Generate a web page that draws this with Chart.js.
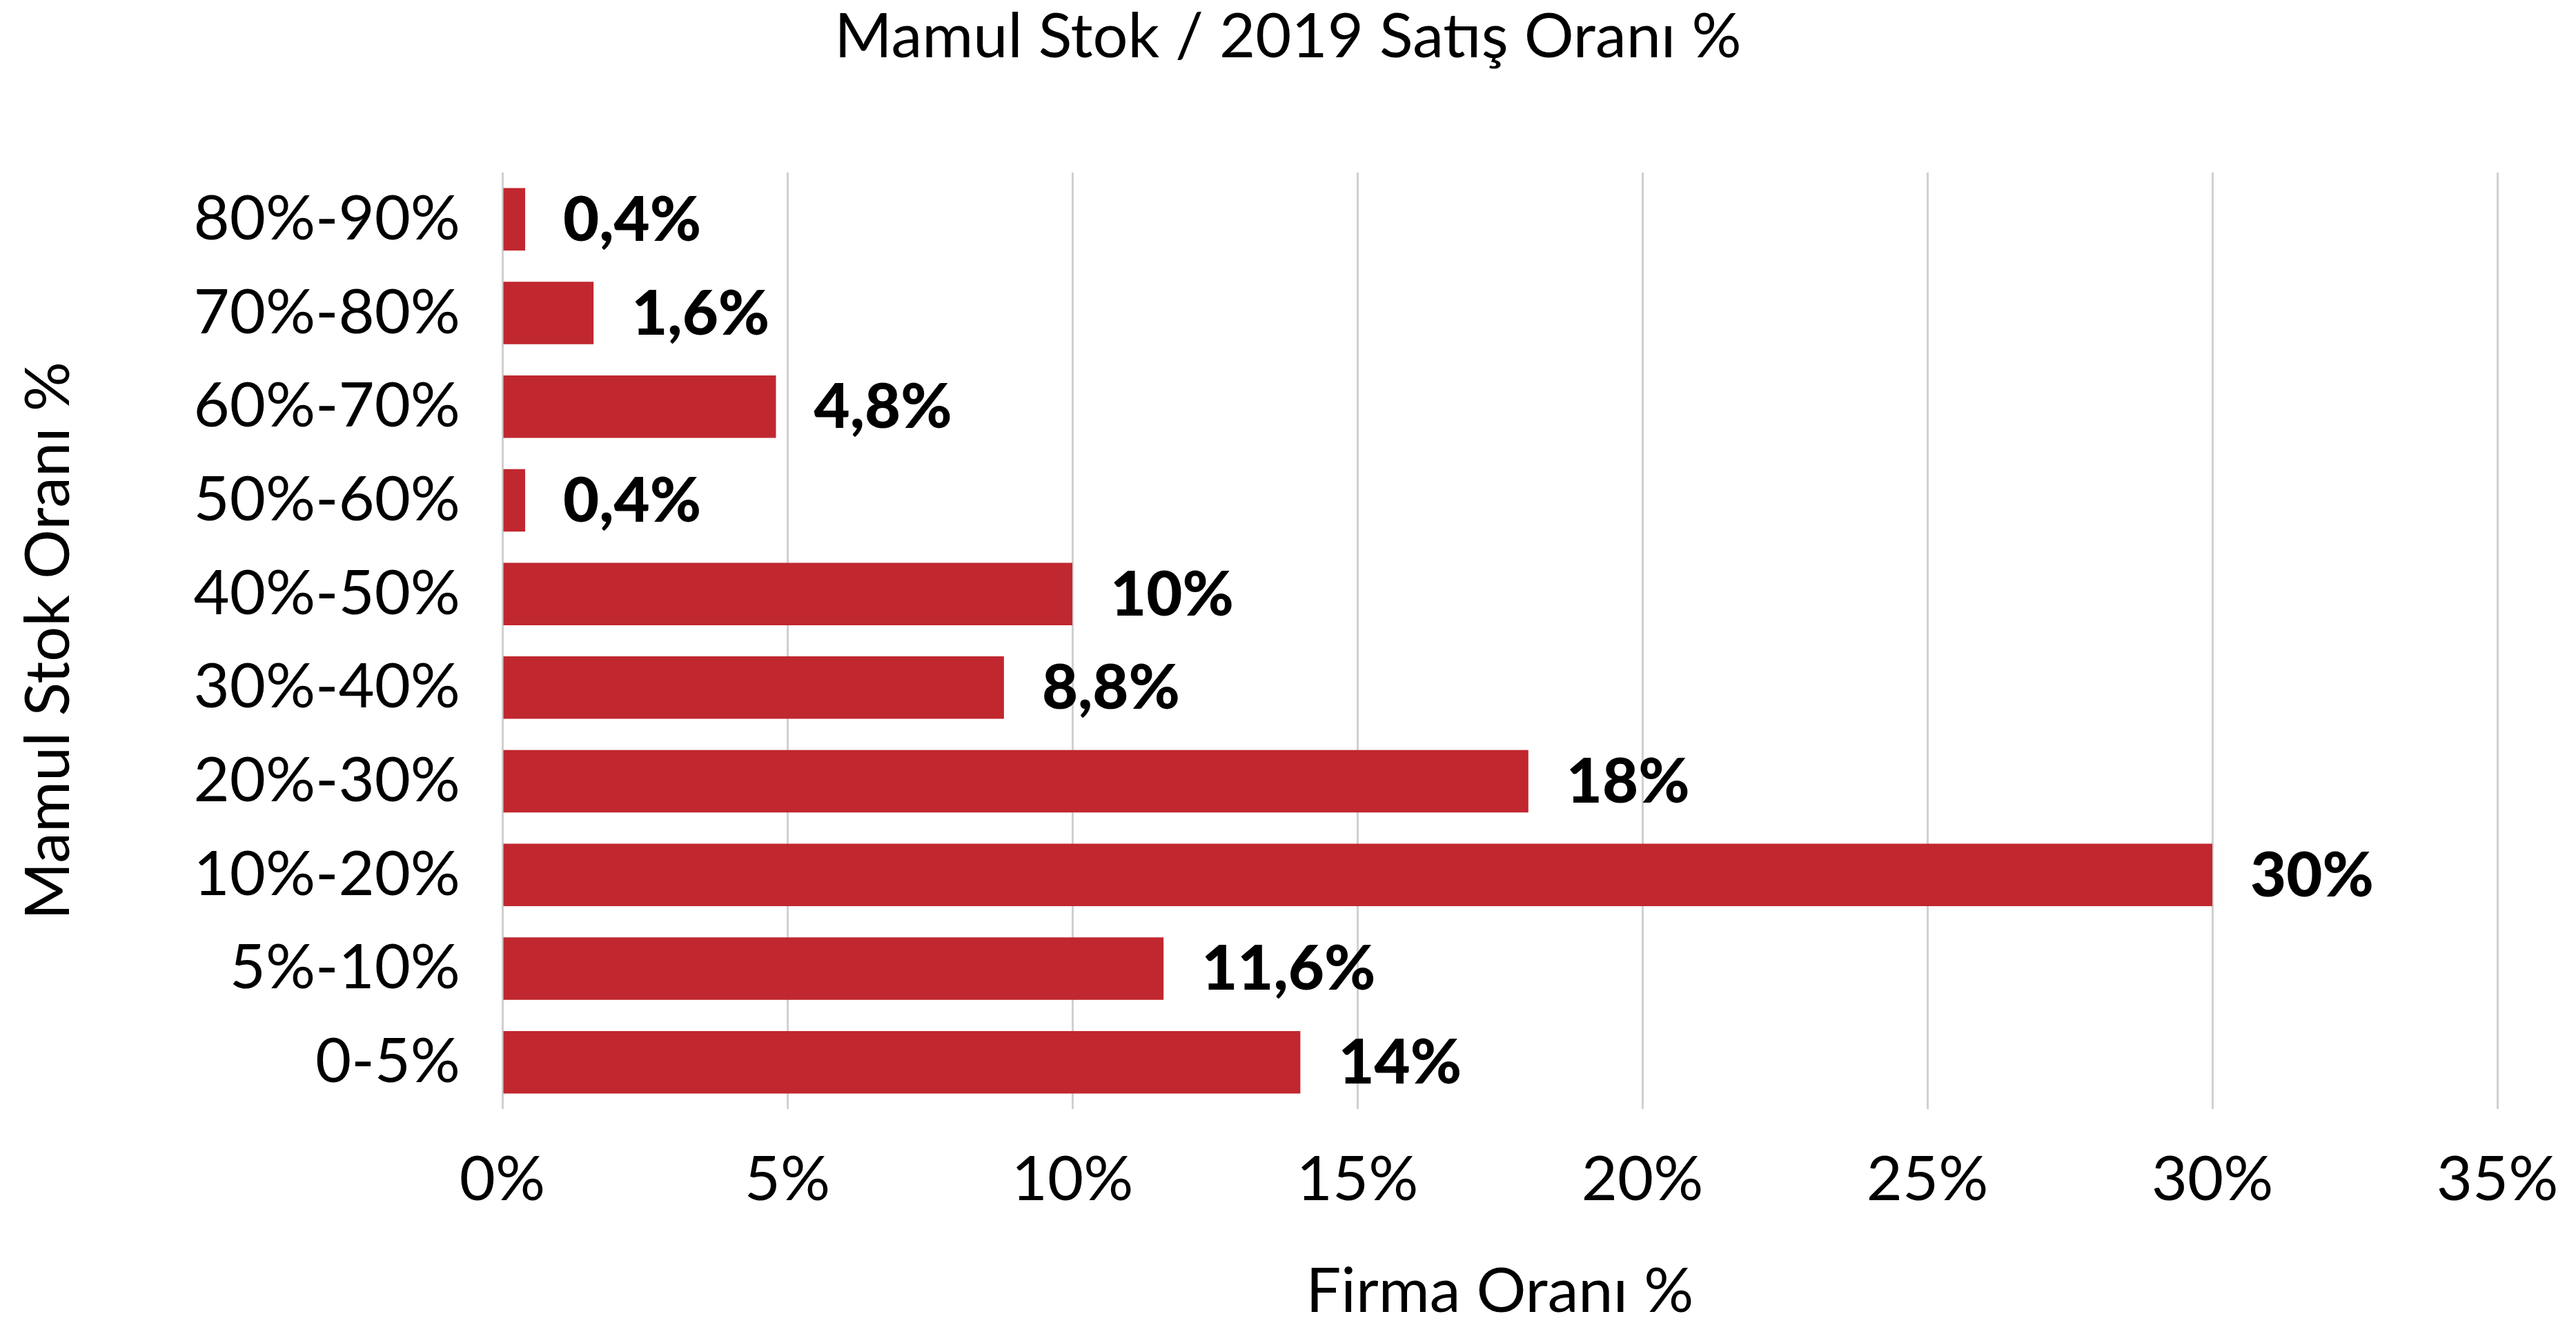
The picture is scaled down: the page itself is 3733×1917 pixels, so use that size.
<!DOCTYPE html>
<html>
<head>
<meta charset="utf-8">
<script src="https://cdn.jsdelivr.net/npm/chart.js@4.4.0/dist/chart.umd.min.js"></script>
<style>
  html, body { margin: 0; padding: 0; background: #fff; }
  canvas { display: block; }
</style>
</head>
<body>
<canvas id="myChart" width="3733" height="1917"></canvas>
<script>
// categories, top to bottom
var categories = ["80%-90%", "70%-80%", "60%-70%", "50%-60%", "40%-50%",
                  "30%-40%", "20%-30%", "10%-20%", "5%-10%", "0-5%"];
// share of firms (%)
var firmShare = [0.4, 1.6, 4.8, 0.4, 10, 8.8, 18, 30, 11.6, 14];
var xTicks = [0, 5, 10, 15, 20, 25, 30, 35];

var FONT = "Lato, 'Open Sans', sans-serif";

// draws the value labels at the end of each bar
var valueLabels = {
  id: "valueLabels",
  afterDatasetsDraw: function (chart) {
    var ctx = chart.ctx;
    var meta = chart.getDatasetMeta(0);
    ctx.save();
    ctx.font = "900 90px " + FONT;
    ctx.fillStyle = "#000";
    ctx.textAlign = "left";
    ctx.textBaseline = "middle";
    meta.data.forEach(function (bar, i) {
      var txt = String(firmShare[i]).replace(".", ",") + "%";
      ctx.fillText(txt, bar.x + 55, bar.y + 2);
    });
    ctx.restore();
  }
};

var ctx = document.getElementById("myChart").getContext("2d");
var chart = new Chart(ctx, {
  type: "bar",
  data: {
    labels: categories,
    datasets: [
      {
        label: "Firma Oranı %",
        backgroundColor: "#C1272F",
        borderWidth: 0,
        data: firmShare,
        barPercentage: 0.667,
        categoryPercentage: 1
      }
    ]
  },
  options: {
    indexAxis: "y",
    responsive: false,
    animation: false,
    devicePixelRatio: 1,
    layout: { padding: { left: 0, right: 0, top: 0, bottom: 0 } },
    plugins: {
      legend: { display: false },
      tooltip: { enabled: false },
      title: {
        display: true,
        text: "Mamul Stok / 2019 Satış Oranı %",
        color: "#000",
        font: { family: FONT, size: 90, weight: "normal", lineHeight: 1.2 },
        padding: { top: 0, bottom: 142 }
      }
    },
    scales: {
      x: {
        min: 0,
        max: 35,
        afterBuildTicks: function (axis) {
          axis.ticks = xTicks.map(function (v) { return { value: v }; });
        },
        afterFit: function (axis) {
          axis.height = 310;
          axis.paddingRight = 114;
        },
        grid: { color: "#d0d0d0", lineWidth: 3, drawTicks: false },
        border: { display: false },
        ticks: {
          color: "#000",
          padding: 49,
          font: { family: FONT, size: 90 },
          callback: function (v) { return v + "%"; }
        },
        title: {
          display: true,
          text: "Firma Oranı %",
          color: "#000",
          font: { family: FONT, size: 90, lineHeight: 1.0 },
          padding: { top: 0, bottom: 0 }
        }
      },
      y: {
        afterFit: function (axis) { axis.width = 728; },
        grid: { display: false, drawTicks: false },
        border: { display: false },
        ticks: {
          color: "#000",
          padding: 61,
          font: { family: FONT, size: 90 }
        },
        title: {
          display: true,
          text: "Mamul Stok Oranı %",
          color: "#000",
          font: { family: FONT, size: 90, lineHeight: 1.2 },
          padding: { top: 17, bottom: 0 }
        }
      }
    }
  },
  plugins: [valueLabels]
});
</script>
</body>
</html>
